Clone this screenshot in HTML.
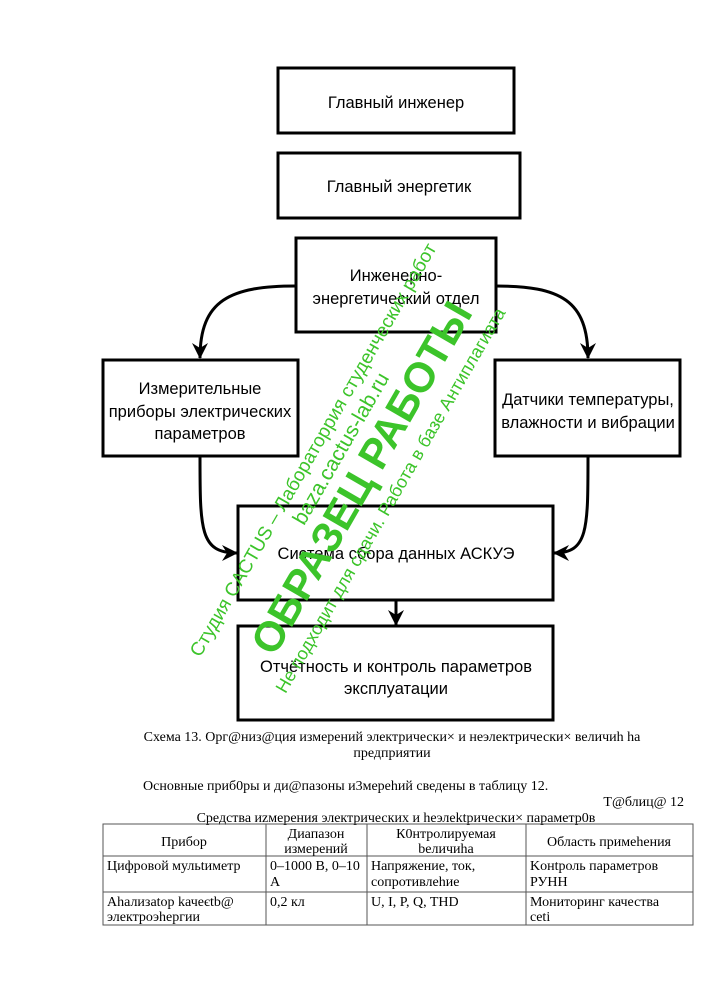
<!DOCTYPE html>
<html><head><meta charset="utf-8"><style>
body{margin:0;background:#fff;width:707px;height:1000px;overflow:hidden}
svg{display:block}
.s{font-family:"Liberation Sans","DejaVu Sans",sans-serif;font-size:16.5px;fill:#000}
.t{font-family:"Liberation Serif","DejaVu Serif",serif;font-size:14px;fill:#000}
.w{font-family:"Liberation Sans","DejaVu Sans",sans-serif;fill:#3cc42a}
</style></head><body>
<svg width="707" height="1000" viewBox="0 0 707 1000" xmlns="http://www.w3.org/2000/svg">
<defs><marker id="a" markerWidth="18" markerHeight="18" refX="15" refY="8" orient="auto" markerUnits="userSpaceOnUse"><path d="M0,0 L16,8 L0,16 L5,8 Z" fill="#000"/></marker></defs>
<g fill="none" stroke="#000" stroke-width="3">
<rect x="278" y="68" width="236" height="65"/>
<rect x="278" y="153" width="242" height="65"/>
<rect x="296" y="238" width="200" height="94"/>
<rect x="103" y="360" width="195" height="96"/>
<rect x="495" y="360" width="185" height="96"/>
<rect x="238" y="506" width="315" height="94"/>
<rect x="238" y="626" width="315" height="94"/>
<path d="M296,286 C230,286 200,300 200,358" marker-end="url(#a)"/>
<path d="M496,286 C560,286 588,300 588,358" marker-end="url(#a)"/>
<path d="M200,456 C200,530 200,553 237,553" marker-end="url(#a)"/>
<path d="M588,456 C588,530 588,553 554,553" marker-end="url(#a)"/>
<path d="M396,600 L396,625" marker-end="url(#a)"/>
</g>
<g class="s" text-anchor="middle">
<text x="396" y="108">Главный инженер</text>
<text x="399" y="192">Главный энергетик</text>
<text x="396" y="281">Инженерно-</text>
<text x="396" y="304">энергетический отдел</text>
<text x="200" y="394">Измерительные</text>
<text x="200" y="417">приборы электрических</text>
<text x="200" y="439">параметров</text>
<text x="588" y="405">Датчики температуры,</text>
<text x="588" y="428">влажности и вибрации</text>
<text x="396" y="559">Система сбора данных АСКУЭ</text>
<text x="396" y="672">Отчётность и контроль параметров</text>
<text x="396" y="694">эксплуатации</text>
</g>
<g class="t">
<text x="392" y="741" text-anchor="middle">Схема 13. Орг@низ@ция измерений электрически× и неэлектрически× величиh hа</text>
<text x="392" y="757" text-anchor="middle">предприятии</text>
<text x="143" y="790">Основные приб0ры и ди@пазоны и3мереhий сведены в таблицу 12.</text>
<text x="684" y="806" text-anchor="end">T@блиц@ 12</text>
<text x="396" y="822" text-anchor="middle">Средства иzмерения электрических и hеэлektpически× параметр0в</text>
</g>
<g stroke="#555" stroke-width="1" fill="none">
<rect x="103" y="824" width="590" height="101"/>
<line x1="103" y1="856" x2="693" y2="856"/><line x1="103" y1="892" x2="693" y2="892"/>
<line x1="266" y1="824" x2="266" y2="925"/><line x1="367" y1="824" x2="367" y2="925"/><line x1="526" y1="824" x2="526" y2="925"/>
</g>
<g class="t">
<text x="184" y="846" text-anchor="middle">Прибор</text>
<text x="316" y="838" text-anchor="middle">Диапазон</text>
<text x="316" y="853" text-anchor="middle">измерений</text>
<text x="446" y="838" text-anchor="middle">К0нтролируемая</text>
<text x="446" y="853" text-anchor="middle">bеличиhа</text>
<text x="609" y="846" text-anchor="middle">Область примеhения</text>
<text x="107" y="870">Цифровой мульtиметр</text>
<text x="270" y="870">0–1000 В, 0–10</text><text x="270" y="886">А</text>
<text x="371" y="870">Напряжение, ток,</text><text x="371" y="886">сопротивлеhие</text>
<text x="530" y="870">Koнtроль параметров</text><text x="530" y="886">РУНН</text>
<text x="107" y="906">Аhализаtор kачеєtb@</text><text x="107" y="921">электроэhергии</text>
<text x="270" y="906">0,2 кл</text>
<text x="371" y="906">U, I, P, Q, THD</text>
<text x="530" y="906">Мониторинг качества</text><text x="530" y="921">ceti</text>
</g>
<g transform="translate(348,470) rotate(-60)" class="w" text-anchor="middle">
<text x="0" y="-34" font-size="19">Студия CACTUS – Лабораторрия студенческих работ</text>
<text x="15" y="-10" font-size="21">baza.cactus-lab.ru</text>
<text x="0" y="30" font-size="42" font-weight="bold">ОБРАЗЕЦ РАБОТЫ</text>
<text x="-5" y="58" font-size="18">Не подходит для сдачи. Работа в базе Антиплагиата</text>
</g>
</svg>
</body></html>
